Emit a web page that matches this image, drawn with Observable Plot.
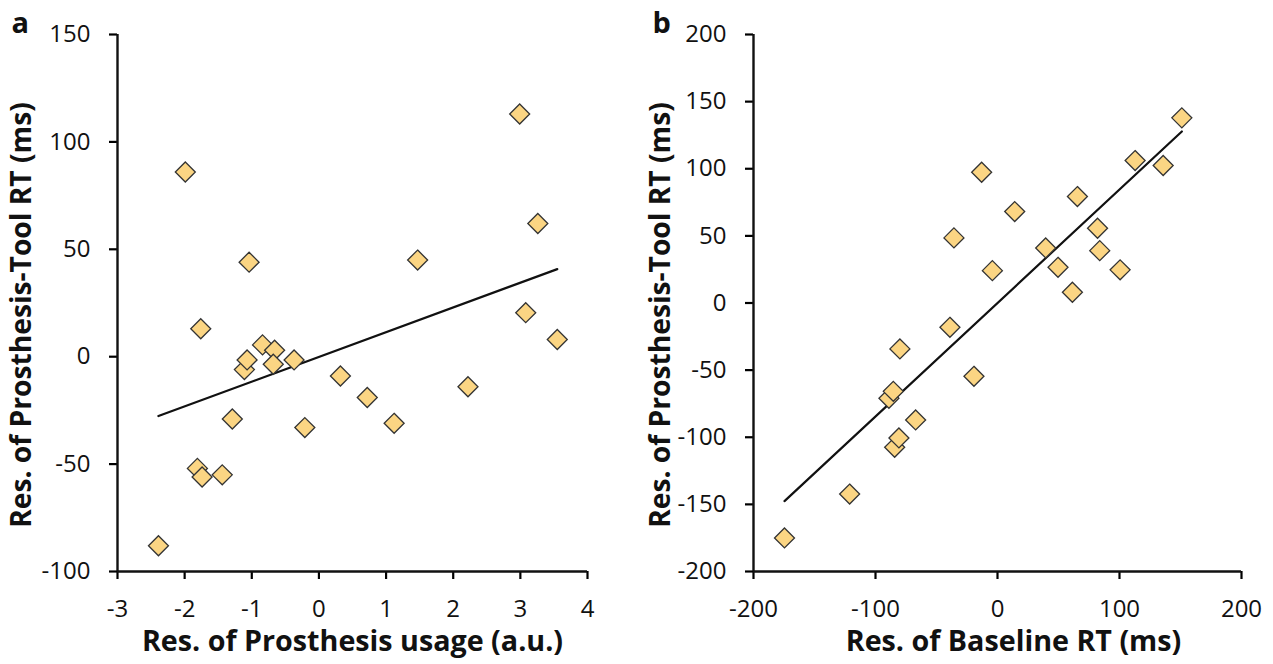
<!DOCTYPE html>
<html>
<head>
<meta charset="utf-8">
<script src="https://cdn.jsdelivr.net/npm/d3@7"></script>
<script src="https://cdn.jsdelivr.net/npm/@observablehq/plot@0.6"></script>
<style>
  html, body { margin: 0; padding: 0; background: #fff; }
  #wrap { position: relative; width: 1273px; height: 664px; overflow: hidden; }
  #pa, #pb { position: absolute; top: 0; }
  #pa { left: 0; }
  #pb { left: 636px; }
</style>
</head>
<body>
<div id="wrap"><div id="pa"></div><div id="pb"></div></div>
<script>
// Panel a: residual prosthesis usage (a.u.) vs residual prosthesis-tool RT (ms)
const usageA = [-2.39, -1.99, -1.76, -1.81, -1.74, -1.44, -1.29, -1.11, -1.07, -1.04, -0.84, -0.66,
                -0.68, -0.37, -0.21, 0.32, 0.72, 1.12, 1.47, 2.22, 2.99, 3.26, 3.08, 3.55];
const rtA    = [-88, 86, 13, -52, -56, -55, -29, -6, -1.5, 44, 5.5, 3,
                -3.5, -1.5, -33, -9, -19, -31, 45, -14, 113, 62, 20.5, 8];
// Panel b: residual baseline RT (ms) vs residual prosthesis-tool RT (ms)
const baseB  = [-174.6, -121.2, -84.3, -80.8, -67.1, -89, -85.4, -80, -39, -35.7, -13, 14.1,
                -4.2, 39.5, 49.6, 61.4, 65.5, 82, 83.8, 100.5, 112.8, 135.8, 151.1, -19.3];
const rtB    = [-175, -142.3, -107.5, -100.5, -87.1, -71, -65.8, -34.2, -18.1, 48.5, 97.4, 68.1,
                24.1, 41, 26.6, 8, 79.3, 55.7, 39, 24.7, 106.1, 102.4, 137.9, -54.6];

const ticksXA = [-3, -2, -1, 0, 1, 2, 3, 4];
const ticksYA = [-100, -50, 0, 50, 100, 150];
const ticksXB = [-200, -100, 0, 100, 200];
const ticksYB = [-200, -150, -100, -50, 0, 50, 100, 150, 200];

const titleXA = "Res. of Prosthesis usage (a.u.)";
const titleXB = "Res. of Baseline RT (ms)";
const titleY  = "Res. of Prosthesis-Tool RT (ms)";

const FONT = "'Open Sans', Lato, sans-serif";
const FILL = "#fbd583";
const STROKE = "#333333";

function panel({xs, ys, xDomain, yDomain, xTicks, yTicks, xTitle, letter, width, marginRight, yTitleDx, letterDx, xTitleDx}) {
  const data = xs.map((x, i) => ({x, y: ys[i]}));
  return Plot.plot({
    width, height: 664,
    marginLeft: 117, marginRight, marginTop: 34, marginBottom: 93,
    style: {fontFamily: FONT, background: "white", overflow: "visible"},
    x: {domain: xDomain},
    y: {domain: yDomain},
    marks: [
      Plot.axisX({ticks: xTicks, tickSize: 8, tickPadding: 20, strokeWidth: 2.2, fontSize: 24,
                  tickFormat: d => String(d), label: null, fill: "#111"}),
      Plot.axisY({ticks: yTicks, tickSize: 8, tickPadding: 19, strokeWidth: 2.2, fontSize: 24,
                  tickFormat: d => String(d), label: null, fill: "#111"}),
      Plot.ruleY([yDomain[0]], {stroke: "#111", strokeWidth: 2.4}),
      Plot.ruleX([xDomain[0]], {stroke: "#111", strokeWidth: 2.4}),
      Plot.linearRegressionY(data, {x: "x", y: "y", ci: 0, stroke: "#111", strokeWidth: 2.2}),
      Plot.dot(data, {x: "x", y: "y", symbol: "diamond2", r: 9, fill: FILL, stroke: STROKE, strokeWidth: 1.3}),
      Plot.text([xTitle], {text: d => d, frameAnchor: "bottom", dx: xTitleDx, dy: 70, textAnchor: "middle", lineAnchor: "middle",
                           fontSize: 28.7, fontWeight: "bold", fill: "#111"}),
      Plot.text([titleY], {text: d => d, frameAnchor: "left", dx: yTitleDx, dy: 12, rotate: -90, textAnchor: "middle", lineAnchor: "middle",
                           fontSize: 28.2, fontWeight: "bold", fill: "#111"}),
      Plot.text([letter], {text: d => d, frameAnchor: "top-left", dx: letterDx, dy: -2, textAnchor: "start", lineAnchor: "bottom",
                           fontSize: 29, fontWeight: "bold", fill: "#111"})
    ]
  });
}

document.getElementById("pa").appendChild(panel({
  xs: usageA, ys: rtA, xDomain: [-3, 4], yDomain: [-100, 150],
  xTicks: ticksXA, yTicks: ticksYA, xTitle: titleXA, letter: "a", width: 636, marginRight: 49,
  yTitleDx: -96, letterDx: -106, xTitleDx: 0
}));
document.getElementById("pb").appendChild(panel({
  xs: baseB, ys: rtB, xDomain: [-200, 200], yDomain: [-200, 200],
  xTicks: ticksXB, yTicks: ticksYB, xTitle: titleXB, letter: "b", width: 637, marginRight: 32,
  yTitleDx: -93, letterDx: -101, xTitleDx: 16
}));
</script>
</body>
</html>
